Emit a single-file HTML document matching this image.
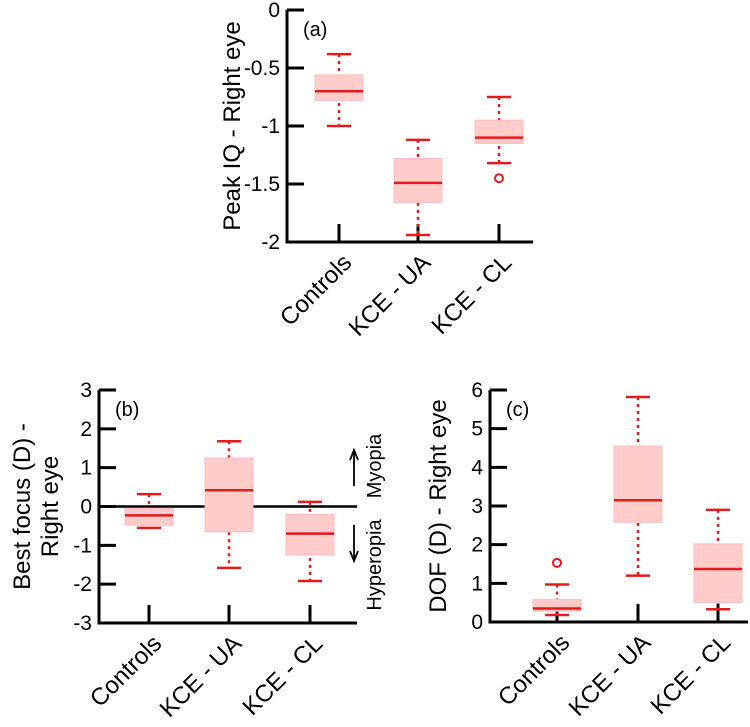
<!DOCTYPE html>
<html><head><meta charset="utf-8"><style>
body{margin:0;background:#fff;}
svg{font-family:"Liberation Sans",Arial,sans-serif;}
</style></head><body>
<svg id="fig" width="750" height="722" viewBox="0 0 750 722" xmlns="http://www.w3.org/2000/svg"></svg>
<script>
const categories = ["Controls","KCE - UA","KCE - CL"];
// [whiskerLow, q1, median, q3, whiskerHigh]
const peakIQ = [[-1.0,-0.78,-0.70,-0.56,-0.38],[-1.94,-1.66,-1.49,-1.28,-1.12],[-1.32,-1.15,-1.10,-0.95,-0.75]];
const peakIQOutliers = [[],[],[-1.45]];
const bestFocus = [[-0.55,-0.48,-0.23,-0.05,0.32],[-1.58,-0.65,0.42,1.25,1.68],[-1.92,-1.25,-0.70,-0.20,0.12]];
const bestFocusOutliers = [[],[],[]];
const dof = [[0.18,0.28,0.35,0.58,0.97],[1.2,2.58,3.15,4.55,5.82],[0.33,0.5,1.37,2.02,2.9]];
const dofOutliers = [[1.53],[],[]];
const ticksA = [0,-0.5,-1,-1.5,-2];
const ticksB = [3,2,1,0,-1,-2,-3];
const ticksC = [6,5,4,3,2,1,0];

const NS="http://www.w3.org/2000/svg";
const svg=document.getElementById('fig');
function mk(tag,attrs,parent,text){const e=document.createElementNS(NS,tag);for(const k in attrs)e.setAttribute(k,attrs[k]);if(text!==undefined)e.textContent=text;(parent||svg).appendChild(e);return e;}

function panel(cfg){
  const g=mk('g',{});
  
  
  const y=v=>cfg.y0+(v-cfg.vmax)/(cfg.vmin-cfg.vmax)*(cfg.y1-cfg.y0);
  const x=i=>cfg.cx[i];
  const ya=mk('line',{x1:cfg.ax,y1:cfg.y0,x2:cfg.ax,y2:cfg.y1,stroke:'#000','stroke-width':3},g);
  
  const xa=mk('line',{x1:cfg.ax-1.5,y1:cfg.y1,x2:cfg.xend,y2:cfg.y1,stroke:'#000','stroke-width':3},g);
  
  cfg.ticks.forEach(t=>{
    const l=mk('line',{x1:cfg.ax,y1:y(t),x2:cfg.ax+17,y2:y(t),stroke:'#000','stroke-width':3},g);
    
    const tx=mk('text',{x:cfg.ax-7,y:y(t)+7,'text-anchor':'end','font-size':21},g,String(t));
    
  });
  if(cfg.zero){const z=mk('line',{x1:cfg.ax,y1:y(0),x2:cfg.xend,y2:y(0),stroke:'#000','stroke-width':2.5},g);
    }
  categories.forEach((c,i)=>{
    const l=mk('line',{x1:x(i),y1:cfg.y1,x2:x(i),y2:cfg.y1-18,stroke:'#000','stroke-width':3},g);
    
    const ex=x(i)+14,ey=cfg.y1+22;
    const t=mk('text',{x:ex,y:ey,'text-anchor':'end','font-size':24,transform:`rotate(-45 ${ex} ${ey})`},g,c);
    
    const d=cfg.data[i];const hw=24,cw=12;
    const wl=mk('line',{x1:x(i),y1:y(d[4]),x2:x(i),y2:y(d[0]),stroke:'#e41a1c','stroke-width':2.5,'stroke-dasharray':'3,4'},g);
    
    const b=mk('rect',{x:x(i)-hw,y:y(d[3]),width:2*hw,height:y(d[1])-y(d[3]),fill:'#ffcccc',stroke:'#ffbbbb','stroke-width':1},g);
    
    const m=mk('line',{x1:x(i)-hw,y1:y(d[2]),x2:x(i)+hw,y2:y(d[2]),stroke:'#e41a1c','stroke-width':2.5},g);
    
    [d[0],d[4]].forEach(v=>{const c2=mk('line',{x1:x(i)-cw,y1:y(v),x2:x(i)+cw,y2:y(v),stroke:'#e41a1c','stroke-width':2.5},g);
      });
    cfg.out[i].forEach(v=>{const o=mk('circle',{cx:x(i)-cfg.off,cy:y(v),r:4,fill:'none',stroke:'#e41a1c','stroke-width':2},g);
      });
  });
  const lb=mk('text',{x:cfg.ax+16,y:cfg.y0+26,'font-size':20},g,cfg.label);
  
  cfg.title.forEach((tl,k)=>{
    const tx=cfg.tx[k],ty=(cfg.y0+cfg.y1)/2;
    const t=mk('text',{x:tx,y:ty,'text-anchor':'middle','font-size':24,transform:`rotate(-90 ${tx} ${ty})`},g,tl);
    
  });
  return {g,y};
}
panel({name:'panel-a',ax:287,y0:10,y1:242,vmax:0,vmin:-2,xend:533,cx:[339,418,499],ticks:ticksA,data:peakIQ,out:peakIQOutliers,off:0,label:'(a)',title:['Peak IQ - Right eye'],tx:[240]});
panel({name:'panel-b',ax:99,y0:390,y1:623,vmax:3,vmin:-3,xend:357,cx:[149,229,310],ticks:ticksB,data:bestFocus,out:bestFocusOutliers,off:0,label:'(b)',title:['Best focus (D) -','Right eye'],tx:[30,58],zero:true});
panel({name:'panel-c',ax:490,y0:390,y1:622,vmax:6,vmin:0,xend:748,cx:[557,638,718],ticks:ticksC,data:dof,out:dofOutliers,off:0,label:'(c)',title:['DOF (D) - Right eye'],tx:[446]});
const an=mk('g',{});
const my=mk('text',{x:381,y:466,'text-anchor':'middle','font-size':20,transform:'rotate(-90 381 466)'},an,'Myopia');

const hy=mk('text',{x:381,y:565,'text-anchor':'middle','font-size':20,transform:'rotate(-90 381 565)'},an,'Hyperopia');

const a1=mk('path',{d:'M354 486 L354 452 M350 460 L354 450 L358 460',stroke:'#000','stroke-width':1.8,fill:'none'},an);

const a2=mk('path',{d:'M354 525 L354 559 M350 551 L354 561 L358 551',stroke:'#000','stroke-width':1.8,fill:'none'},an);

</script>
</body></html>
